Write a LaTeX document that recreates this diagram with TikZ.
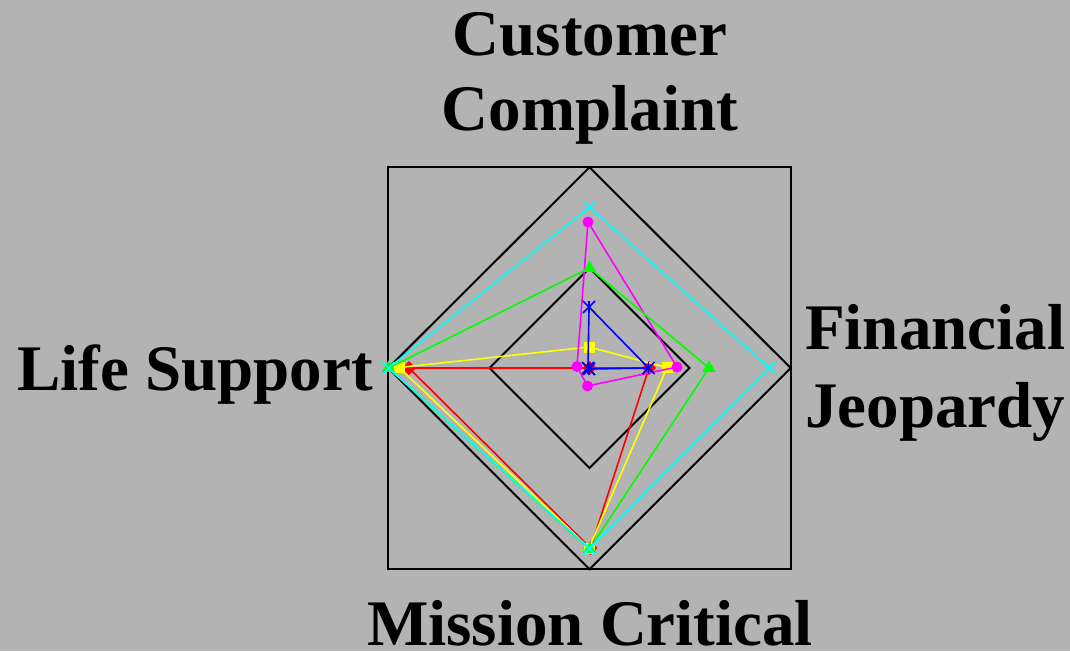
\documentclass[tikz,border=0pt]{standalone}
\usepackage{fontspec}
\setmainfont{Liberation Serif}
\usetikzlibrary{shapes.geometric,shapes.misc}
\definecolor{bg}{RGB}{179,179,179}
\definecolor{cy}{RGB}{0,255,255}
\definecolor{mg}{RGB}{255,0,255}
\definecolor{gr}{RGB}{0,255,0}
\definecolor{ye}{RGB}{255,255,0}
\definecolor{bl}{RGB}{0,0,255}
\definecolor{rd}{RGB}{255,0,0}
\begin{document}
\begin{tikzpicture}[x=1pt,y=-1pt,
  frame/.style={draw=black, line width=2pt},
  series/.style={line width=1.6pt, line join=miter},
  mk/.style={inner sep=0pt, outer sep=0pt},
  circmark/.style={mk, circle, fill=#1, minimum size=11pt},
  trimark/.style={mk, regular polygon, regular polygon sides=3, fill=#1, minimum size=15pt},
  sqmark/.style={mk, rectangle, fill=#1, minimum size=11pt},
  diamark/.style={mk, diamond, fill=#1, minimum size=14pt},
  xmark/.style={mk, cross out, draw=#1, line width=1.6pt, minimum size=12pt},
  astmark/.style={mk, cross out, draw=#1, line width=1.6pt, minimum size=12pt,
     append after command={(\tikzlastnode.north) edge[draw=#1, line width=1.6pt] (\tikzlastnode.south)}},
  lab/.style={font=\fontsize{65}{75}\selectfont\bfseries, inner sep=0pt}
]
\useasboundingbox[fill=bg] (0,0) rectangle (1070,651);

% frame
\coordinate (C) at (589.5,368);
\coordinate (sq1) at (388.3,167.3);
\coordinate (sq2) at (790.7,569.3);
\draw[frame] (sq1) rectangle (sq2);
\coordinate (oT) at (589.5,167.3);
\coordinate (oR) at (790.7,368);
\coordinate (oB) at (589.5,569.3);
\coordinate (oL) at (388.3,368);
\draw[frame] (oT) -- (oR) -- (oB) -- (oL) -- cycle;
\coordinate (iT) at (589.5,268);
\coordinate (iR) at (689.5,368);
\coordinate (iB) at (589.5,468);
\coordinate (iL) at (489.5,368);
\draw[frame] (iT) -- (iR) -- (iB) -- (iL) -- cycle;

% red series
\coordinate (rT) at (589.5,368);
\coordinate (rR) at (649,368);
\coordinate (rB) at (590.5,548);
\coordinate (rL) at (409,368);
\draw[series, rd] (rT) -- (rR) -- (rB) -- (rL) -- cycle;
\foreach \p in {rT,rR,rB,rL} \node[diamark=rd] (m\p) at (\p) {};

% yellow series
\coordinate (yT) at (589,347);
\coordinate (yR) at (667,367.5);
\coordinate (yB) at (589,548);
\coordinate (yL) at (399,367.5);
\draw[series, ye] (yT) -- (yR) -- (yB) -- (yL) -- cycle;
\foreach \p in {yT,yR,yB,yL} \node[sqmark=ye] (m\p) at (\p) {};

% magenta series
\coordinate (gT) at (588,222);
\coordinate (gR) at (677,367);
\coordinate (gB) at (587.5,386);
\coordinate (gL) at (577,366.5);
\draw[series, mg] (gT) -- (gR) -- (gB) -- (gL) -- cycle;
\foreach \p in {gT,gR,gB,gL} \node[circmark=mg] (m\p) at (\p) {};

% blue series
\coordinate (bT) at (589,307);
\coordinate (bR) at (648.5,368);
\coordinate (bB) at (589,369);
\coordinate (bL) at (588,368);
\draw[series, bl] (bT) -- (bR) -- (bB) -- (bL) -- cycle;
\foreach \p in {bT,bR,bB,bL} \node[astmark=bl] (m\p) at (\p) {};

% green series
\coordinate (nT) at (589.5,268);
\coordinate (nR) at (709,368);
\coordinate (nB) at (589.5,549);
\coordinate (nL) at (388.5,368);
\draw[series, gr] (nT) -- (nR) -- (nB) -- (nL) -- cycle;
\foreach \p in {nT,nR,nB,nL} \node[trimark=gr] (m\p) at (\p) {};

% cyan series
\coordinate (cT) at (589.5,207.2);
\coordinate (cR) at (769.5,368);
\coordinate (cB) at (589.5,548.5);
\coordinate (cL) at (388.5,368);
\draw[series, cy] (cT) -- (cR) -- (cB) -- (cL) -- cycle;
\foreach \p in {cT,cR,cB,cL} \node[xmark=cy] (m\p) at (\p) {};

% labels
\node[lab, anchor=base, align=center] (labTop) at (590,130) {Customer\\Complaint};
\node[lab, anchor=base east] (labLeft) at (373,390) {Life Support};
\node[lab, anchor=base west, align=left, font=\fontsize{65}{78}\selectfont\bfseries] (labRight) at (805,427) {Financial\\Jeopardy};
\node[lab, anchor=base] (labBottom) at (590,645) {Mission Critical};
\end{tikzpicture}
\end{document}
